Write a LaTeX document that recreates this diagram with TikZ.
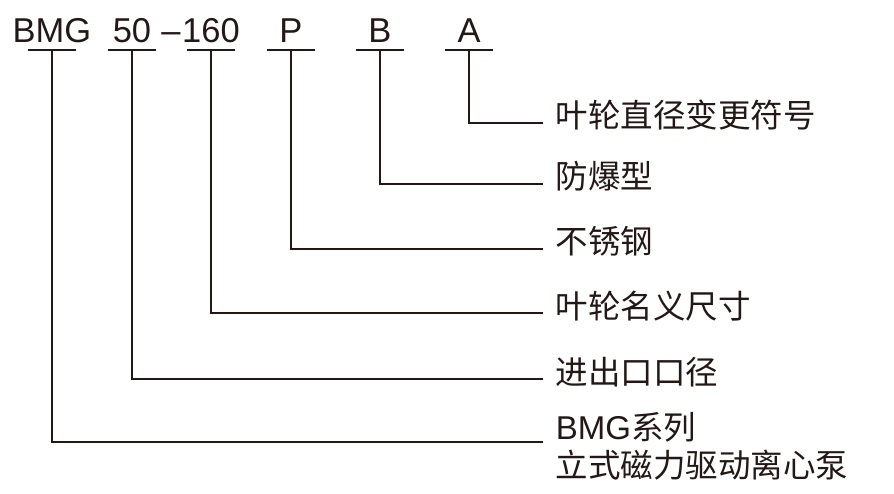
\documentclass[tikz,border=0pt]{standalone}
\usepackage{fontspec}
\setmainfont{Liberation Sans}
\newfontfamily\cjk{Noto Sans CJK SC}
\definecolor{ink}{RGB}{35,24,21}
\begin{document}
\begin{tikzpicture}[x=1pt,y=-1pt, line width=1.7pt, color=ink,
  code/.style={font=\fontsize{34.5}{40}\selectfont, anchor=base, inner sep=0pt},
  lab/.style={font=\cjk\fontsize{32.5}{38}\selectfont, anchor=west, inner xsep=12pt, inner ysep=0pt, text height=1em, text depth=0pt},
  labb/.style={font=\cjk\fontsize{32.5}{38}\selectfont, anchor=base west, inner xsep=12pt, inner ysep=0pt}]
\useasboundingbox (0,0) rectangle (894,494);
% codes
\node[code] (c1) at (52,43) {BMG};
\node[code] (c2) at (132,43) {50};
\node[code] (dash) at (171,43) {–};
\node[code] (c3) at (211,43) {160};
\node[code] (c4) at (291,43) {P};
\node[code] (c5) at (380,43) {B};
\node[code] (c6) at (469,43) {A};
% underline anchors
\coordinate (u1) at (52,50);
\coordinate (u2) at (132,50);
\coordinate (u3) at (211,50);
\coordinate (u4) at (291,50);
\coordinate (u5) at (380,50);
\coordinate (u6) at (469,50);
\foreach \u in {u1,u2,u3,u4,u5,u6}
  \draw ([xshift=-24pt]\u) -- ([xshift=24pt]\u);
% labels
\node[lab] (l1) at (543,123) {叶轮直径变更符号};
\node[lab] (l2) at (543,184) {防爆型};
\node[lab] (l3) at (543,249) {不锈钢};
\node[lab] (l4) at (543,313) {叶轮名义尺寸};
\node[lab] (l5) at (543,379) {进出口口径};
\node[labb] (l6a) at (543,439) {{\rmfamily\fontsize{33}{38}\selectfont BMG}系列};
\node[labb] (l6b) at (543,477) {立式磁力驱动离心泵};
\coordinate (e6) at (543,442);
% connectors
\draw (u6) |- (l1.west);
\draw (u5) |- (l2.west);
\draw (u4) |- (l3.west);
\draw (u3) |- (l4.west);
\draw (u2) |- (l5.west);
\draw (u1) |- (e6);
\end{tikzpicture}
\end{document}
